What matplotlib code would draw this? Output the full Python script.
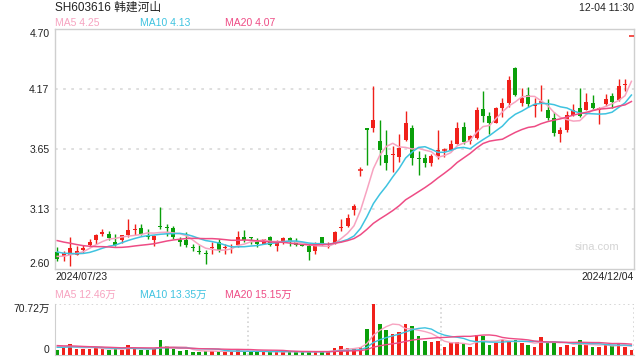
import numpy as np
import pandas as pd
from matplotlib import pyplot as plt

plt.rcParams['font.family'] = ['Liberation Sans', 'Noto Sans CJK SC']

# daily k-line 2024/07/23 - 2024/12/04
opens = [2.75, 2.71, 2.72, 2.72, 2.77, 2.81, 2.85, 2.91, 2.91, 2.84,
         2.85, 2.90, 2.94, 2.96, 2.89, 2.85, 2.98, 2.97, 2.96, 2.85,
         2.85, 2.79, 2.76, 2.74, 2.78, 2.84, 2.78, 2.79, 2.81, 2.88,
         2.88, 2.85, 2.82, 2.88, 2.80, 2.83, 2.87, 2.84, 2.81, 2.80,
         2.76, 2.88, 2.79, 2.83, 2.96, 2.98, 3.12, 3.47, 3.83, 3.83,
         3.72, 3.60, 3.60, 3.58, 3.73, 3.83, 3.57, 3.57, 3.53, 3.59,
         3.64, 3.64, 3.69, 3.84, 3.72, 3.75, 4.00, 3.94, 3.88, 4.01,
         4.05, 4.36, 4.05, 4.12, 4.03, 4.06, 3.99, 3.92, 3.78, 3.82,
         3.95, 4.01, 3.99, 4.05, 3.99, 4.04, 4.11, 4.08, 4.21, 4.64]
highs = [2.79, 2.76, 2.88, 2.80, 2.81, 2.86, 2.91, 2.95, 2.93, 2.91,
         2.90, 3.04, 2.99, 2.99, 2.95, 2.90, 3.14, 2.99, 2.98, 2.88,
         2.92, 2.82, 2.81, 2.77, 2.84, 2.86, 2.82, 2.82, 2.93, 2.94,
         2.88, 2.87, 2.86, 2.89, 2.85, 2.88, 2.88, 2.87, 2.82, 2.82,
         2.84, 2.88, 2.84, 2.93, 3.04, 3.08, 3.17, 3.49, 3.83, 4.20,
         3.90, 3.82, 3.68, 3.78, 3.98, 3.86, 3.63, 3.61, 3.61, 3.82,
         3.66, 3.73, 3.89, 3.89, 3.77, 4.02, 4.16, 3.97, 4.02, 4.10,
         4.29, 4.37, 4.18, 4.19, 4.10, 4.21, 4.09, 3.97, 3.84, 3.98,
         4.04, 4.18, 4.14, 4.12, 4.02, 4.13, 4.14, 4.26, 4.26, 4.64]
lows = [2.67, 2.67, 2.63, 2.72, 2.74, 2.79, 2.82, 2.89, 2.85, 2.80,
        2.83, 2.88, 2.90, 2.90, 2.86, 2.80, 2.95, 2.89, 2.86, 2.80,
        2.79, 2.76, 2.73, 2.64, 2.73, 2.75, 2.73, 2.74, 2.79, 2.84,
        2.82, 2.79, 2.82, 2.80, 2.76, 2.82, 2.80, 2.80, 2.80, 2.68,
        2.73, 2.81, 2.78, 2.82, 2.93, 2.97, 3.07, 3.41, 3.51, 3.80,
        3.51, 3.47, 3.45, 3.54, 3.72, 3.51, 3.42, 3.49, 3.50, 3.56,
        3.58, 3.63, 3.69, 3.69, 3.69, 3.74, 3.89, 3.78, 3.88, 3.93,
        4.02, 4.11, 4.03, 4.02, 3.93, 3.98, 3.90, 3.76, 3.71, 3.80,
        3.94, 3.93, 3.99, 3.99, 3.87, 4.03, 4.01, 4.07, 4.16, 4.64]
closes = [2.69, 2.74, 2.78, 2.76, 2.78, 2.84, 2.90, 2.92, 2.87, 2.81,
          2.90, 2.94, 2.95, 2.91, 2.88, 2.89, 2.97, 2.96, 2.88, 2.84,
          2.81, 2.78, 2.75, 2.73, 2.79, 2.77, 2.79, 2.80, 2.88, 2.85,
          2.87, 2.82, 2.86, 2.81, 2.84, 2.87, 2.84, 2.81, 2.80, 2.75,
          2.82, 2.82, 2.80, 2.92, 2.97, 3.05, 3.15, 3.47, 3.82, 3.90,
          3.64, 3.53, 3.61, 3.66, 3.88, 3.57, 3.56, 3.53, 3.59, 3.64,
          3.64, 3.69, 3.83, 3.71, 3.76, 3.99, 3.94, 3.88, 4.01, 4.05,
          4.25, 4.12, 4.10, 4.04, 4.04, 4.06, 3.92, 3.79, 3.82, 3.95,
          3.99, 3.94, 4.06, 4.01, 4.01, 4.09, 4.06, 4.20, 4.22, 4.64]
# volume in 万 shares
volume = [7.0, 10.7, 15.4, 8.8, 8.4, 8.8, 9.8, 8.8, 7.0, 8.4,
          7.0, 14.0, 8.8, 7.0, 7.0, 8.4, 20.9, 12.6, 8.4, 5.6,
          7.0, 4.7, 4.7, 5.6, 5.6, 5.1, 4.2, 4.7, 7.0, 4.7,
          5.1, 4.2, 4.2, 4.7, 4.7, 4.2, 4.7, 4.2, 4.2, 4.7,
          4.7, 4.7, 4.7, 9.3, 12.6, 9.3, 8.8, 11.6, 36.3, 70.72,
          43.3, 34.9, 29.3, 32.1, 43.3, 40.5, 26.5, 20.0, 18.6, 19.5,
          11.2, 16.3, 18.1, 15.4, 11.6, 27.5, 26.5, 14.4, 17.2, 20.9,
          18.6, 20.9, 17.2, 14.0, 11.6, 25.1, 18.6, 18.6, 11.6, 14.0,
          11.6, 20.9, 14.0, 11.2, 11.2, 14.0, 12.6, 16.3, 11.6, 7.0]
# sessions before 07/23, only needed so the MA lines start at the left edge
prev_close = [3.00, 2.98, 2.99, 2.97, 2.95, 2.96, 2.93, 2.92, 2.90, 2.88,
              2.85, 2.80, 2.78, 2.76, 2.75, 2.73, 2.72, 2.70, 2.71]
prev_volume = [18, 16, 15, 17, 16, 14, 15, 13, 16, 14,
               11, 10, 9, 9, 10, 12, 13, 14, 12]

ytick_labels = ['2.60', '3.13', '3.65', '4.17', '4.70']
ma_labels = ['MA5 4.25', 'MA10 4.13', 'MA20 4.07']
vol_ma_labels = ['MA5 12.46万', 'MA10 13.35万', 'MA20 15.15万']
ma_colors = ['#f7a3c0', '#3fc3e0', '#ee4c85']

RED = '#f0201a'
GREEN = '#0a9f0a'
FRAME = '#cfcfcf'

o = np.array(opens); h = np.array(highs); l = np.array(lows); c = np.array(closes)
v = np.array(volume)
n = len(c)
x = np.arange(n)
up = c >= o
col = np.where(up, RED, GREEN)

cs = pd.Series(prev_close + closes)
vs = pd.Series(prev_volume + volume)
k = len(prev_close)

fig = plt.figure(figsize=(6.4, 3.6), dpi=100)
ax = fig.add_axes([55/640, 1-269/360, 579/640, 240/360])
vax = fig.add_axes([55/640, 1-355/360, 579/640, 51/360])

# candles
ax.vlines(x, l, h, colors=col, lw=1, zorder=2)
body = np.abs(c - o)
flat = body < 0.006
ax.bar(x[~flat], body[~flat], bottom=np.minimum(o, c)[~flat], width=0.62,
       color=col[~flat], linewidth=0, zorder=3)
ax.hlines(o[flat], x[flat]-0.34, x[flat]+0.34, colors=col[flat], lw=1.1, zorder=3)

for w, mc in zip([5, 10, 20], ma_colors):
    ax.plot(x, cs.rolling(w).mean().values[k:], color=mc, lw=1.1, zorder=4)

ax.set_xlim(-0.35, n - 1 + 0.4)
ax.set_ylim(2.60, 4.70)
yt = np.linspace(2.60, 4.70, 5)
ax.set_yticks(yt)
ax.set_yticklabels(ytick_labels)
tl = ax.get_yticklabels()
tl[0].set_va('bottom')
tl[-1].set_va('top')
ax.set_xticks([])
ax.tick_params(axis='y', length=0, pad=4, labelsize=7.5, labelcolor='#222222')
for yy in yt[1:-1]:
    ax.axhline(yy, color='#dcdcdc', lw=1.3, ls=(0, (1.5, 3)), zorder=1)
for s in ax.spines.values():
    s.set_color(FRAME)
    s.set_linewidth(1)

ax.text(0.975, 0.09, 'sina.com', transform=ax.transAxes, ha='right', va='center',
        fontsize=8, color='#d4d4d4')

# volume
vax.bar(x, v, width=0.55, color=col, linewidth=0, zorder=2)
for w, mc in zip([5, 10, 20], ma_colors):
    vax.plot(x, vs.rolling(w).mean().values[k:], color=mc, lw=1.0, zorder=3)
vax.set_xlim(-0.35, n - 1 + 0.4)
vax.set_ylim(0, max(volume))
vax.set_yticks([0, max(volume)])
vax.set_yticklabels(['0', '70.72万'])
vtl = vax.get_yticklabels()
vtl[0].set_va('bottom')
vtl[1].set_va('top')
vax.set_xticks([])
vax.tick_params(axis='y', length=0, pad=4, labelsize=7.5, labelcolor='#222222')
for s in ['top', 'right']:
    vax.spines[s].set_visible(False)
for s in ['left', 'bottom']:
    vax.spines[s].set_color(FRAME)
vax.axhline(max(volume), color='#cccccc', lw=1.1, ls=(0, (1, 2)), zorder=1)
x0, x1 = vax.get_xlim()
for f in [1/3, 2/3, 1]:
    vax.axvline(x0 + (x1 - x0) * f, color='#cccccc', lw=1.1, ls=(0, (1, 2)), zorder=1)

# header texts
fig.text(55/640, 1-8/360, 'SH603616 韩建河山', fontsize=8.5, color='#222222', va='center')
fig.text(634/640, 1-8/360, '12-04 11:30', fontsize=7.5, color='#222222', va='center', ha='right')
for lab, mc, px in zip(ma_labels, ma_colors, [55, 140, 225]):
    fig.text(px/640, 1-23.5/360, lab, fontsize=7.5, color=mc, va='center')
fig.text(55/640, 1-277/360, '2024/07/23', fontsize=7.5, color='#222222', va='center')
fig.text(634/640, 1-277/360, '2024/12/04', fontsize=7.5, color='#222222', va='center', ha='right')
for lab, mc, px in zip(vol_ma_labels, ma_colors, [55, 140, 225]):
    fig.text(px/640, 1-295/360, lab, fontsize=7.5, color=mc, va='center')

plt.savefig('out.png', dpi=100)
